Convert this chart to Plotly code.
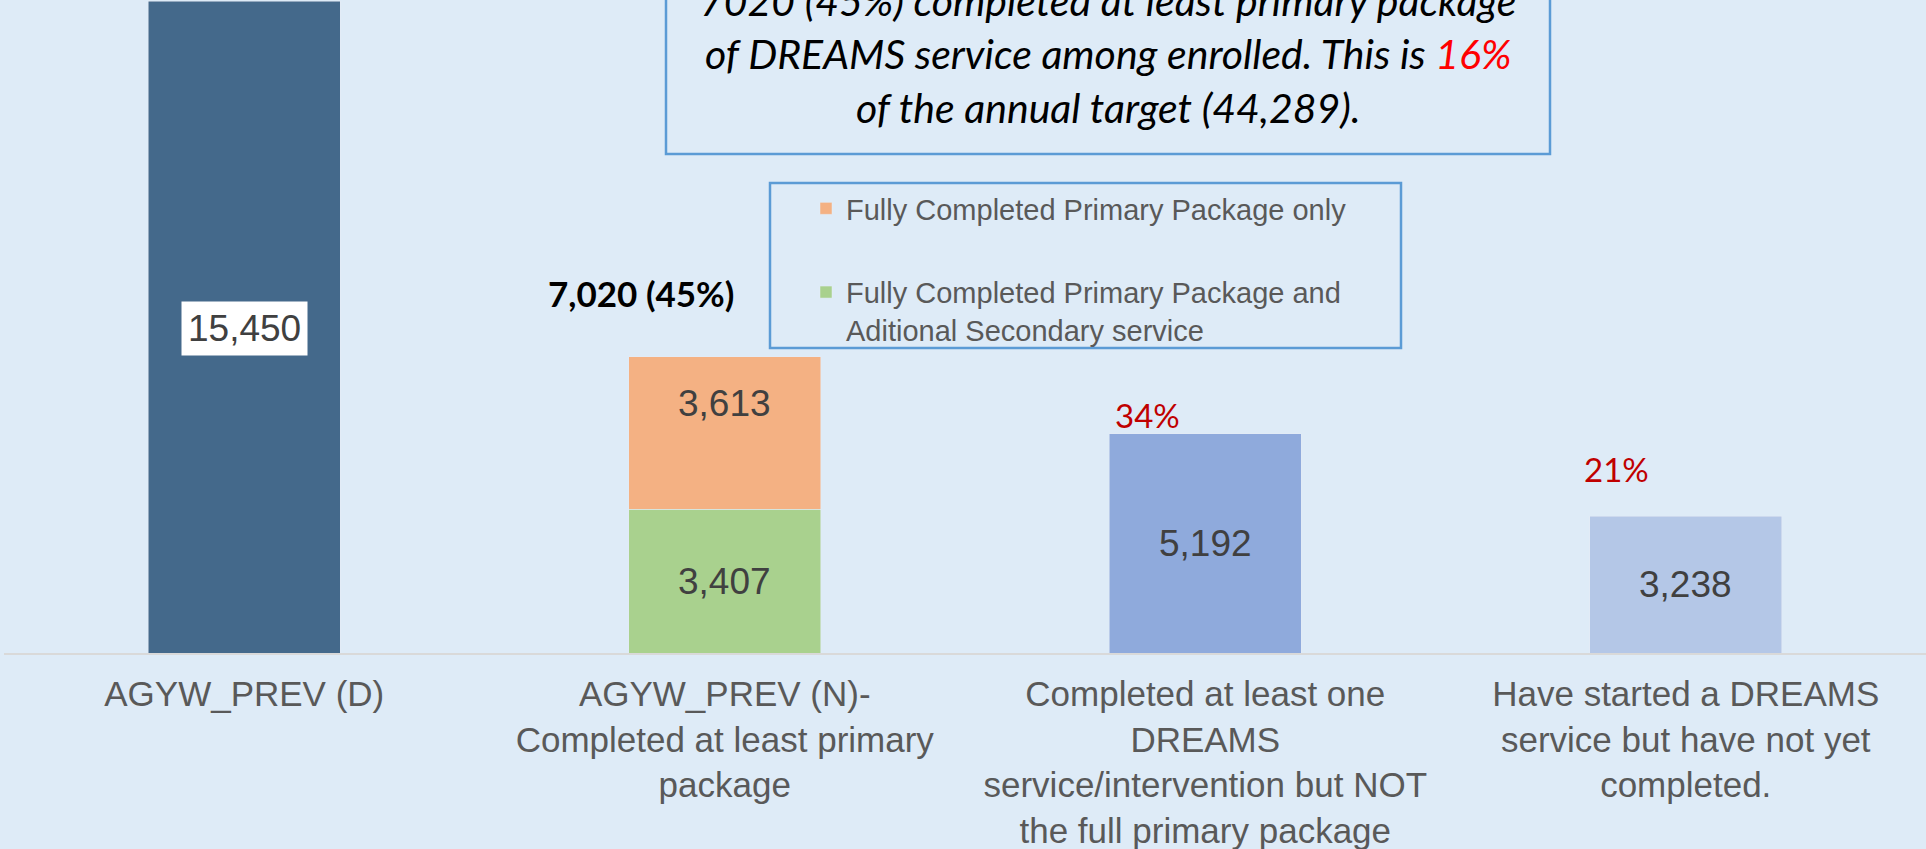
import plotly.graph_objects as go

# ---------------- data ----------------
cat_keys = ["D", "N", "ONE", "STARTED"]
cat_labels = [
    "AGYW_PREV (D)",
    "AGYW_PREV (N)-<br>Completed at least primary<br>package",
    "Completed at least one<br>DREAMS<br>service/intervention but NOT<br>the full primary package",
    "Have started a DREAMS<br>service but have not yet<br>completed.",
]
agyw_prev_d = 15450
primary_plus_secondary = 3407
primary_only = 3613
at_least_one = 5192
started_not_completed = 3238
pct_labels = {"ONE": "34%", "STARTED": "21%"}
summary_label = "7,020 (45%)"
legend_names = [
    "Fully Completed Primary Package only",
    "Fully Completed Primary Package and<br>Aditional Secondary service",
]
title_lines = [
    "7020 (45%) completed at least primary package",
    "of DREAMS service among enrolled. This is <span style='color:#FF0000'>16%</span>",
    "of the annual target (44,289).",
]

# ---------------- style ----------------
BG = "#DEEBF7"
W, H = 1926, 849
L, R, T, B = 4, 0, 0, 196
PLOT_BOTTOM = H - B


def px(xp, yp):
    """Convert page pixel position into paper coordinates."""
    return (xp - L) / (W - L - R), (PLOT_BOTTOM - yp) / (H - T - B)


label_font = dict(family="Liberation Sans, Arial, sans-serif", size=37, color="#404040")

fig = go.Figure()
fig.add_trace(go.Bar(x=[cat_keys[0]], y=[agyw_prev_d], marker_color="#44698B",
                     showlegend=False, name="AGYW_PREV (D)"))
fig.add_trace(go.Bar(x=[cat_keys[1]], y=[primary_plus_secondary], marker_color="#A9D18E",
                     name=legend_names[1], legendgroup="g2", legendrank=2))
fig.add_trace(go.Bar(x=[cat_keys[1]], y=[primary_only], marker_color="#F4B183",
                     name=legend_names[0], legendgroup="g1", legendrank=1))
fig.add_trace(go.Bar(x=[cat_keys[2]], y=[at_least_one], marker_color="#8FAADC",
                     showlegend=False, name="at least one"))
fig.add_trace(go.Bar(x=[cat_keys[3]], y=[started_not_completed], marker_color="#B4C7E7",
                     showlegend=False, name="started"))

annotations = []
# value labels
annotations.append(dict(x=cat_keys[0], y=agyw_prev_d / 2, xref="x", yref="y",
                        text=f"{agyw_prev_d:,}", showarrow=False, font=label_font,
                        bgcolor="white", borderpad=6, yshift=-1))
annotations.append(dict(x=cat_keys[1], y=primary_plus_secondary / 2, xref="x", yref="y",
                        text=f"{primary_plus_secondary:,}", showarrow=False, font=label_font))
annotations.append(dict(x=cat_keys[1], y=primary_plus_secondary + primary_only, xref="x", yref="y",
                        text=f"{primary_only:,}", showarrow=False, font=label_font,
                        yanchor="middle", yshift=-47))
annotations.append(dict(x=cat_keys[2], y=at_least_one / 2, xref="x", yref="y",
                        text=f"{at_least_one:,}", showarrow=False, font=label_font))
annotations.append(dict(x=cat_keys[3], y=started_not_completed / 2, xref="x", yref="y",
                        text=f"{started_not_completed:,}", showarrow=False, font=label_font))
# summary above stacked bar
annotations.append(dict(x=cat_keys[1], y=primary_plus_secondary + primary_only, xref="x", yref="y",
                        text=f"<b>{summary_label}</b>", showarrow=False,
                        font=dict(family="Lato, sans-serif", size=35, color="black"),
                        xanchor="center", yanchor="middle", xshift=-84, yshift=64))
# red percentages
pct_font = dict(family="Lato, sans-serif", size=33, color="#C00000")
annotations.append(dict(x=cat_keys[2], y=at_least_one, xref="x", yref="y", text=pct_labels["ONE"],
                        showarrow=False, font=pct_font, xanchor="left", yanchor="middle",
                        xshift=-92, yshift=19))
annotations.append(dict(x=cat_keys[3], y=started_not_completed, xref="x", yref="y",
                        text=pct_labels["STARTED"], showarrow=False, font=pct_font,
                        xanchor="left", yanchor="middle", xshift=-104, yshift=47))
# title text box
tx, ty = px(1108, 54)
annotations.append(dict(x=tx, y=ty, xref="paper", yref="paper",
                        text="<br>".join(f"<i>{t}</i>" for t in title_lines),
                        showarrow=False, xanchor="center", yanchor="middle", align="center",
                        font=dict(family="Lato, sans-serif", size=41, color="black", style="italic"),
                        ))

shapes = []
x0, y0 = px(666, 154)
x1, y1 = px(1550, -20)
shapes.append(dict(type="rect", xref="paper", yref="paper", x0=x0, y0=y0, x1=x1, y1=y1,
                   line=dict(color="#5B9BD5", width=2.5), fillcolor="rgba(0,0,0,0)"))
x0, y0 = px(770, 348)
x1, y1 = px(1401, 183)
shapes.append(dict(type="rect", xref="paper", yref="paper", x0=x0, y0=y0, x1=x1, y1=y1,
                   line=dict(color="#5B9BD5", width=2.5), fillcolor="rgba(0,0,0,0)"))

lx, ly = px(806, 183)
fig.update_layout(
    width=W, height=H,
    margin=dict(l=L, r=R, t=T, b=B, pad=0),
    paper_bgcolor=BG, plot_bgcolor=BG,
    barmode="stack", bargap=0.6,
    font=dict(family="Liberation Sans, Arial, sans-serif", color="#595959"),
    showlegend=True,
    legend=dict(x=lx, y=ly, xanchor="left", yanchor="top", bgcolor="rgba(0,0,0,0)",
                borderwidth=0, traceorder="grouped", tracegroupgap=43, valign="top",
                font=dict(family="Liberation Sans, Arial, sans-serif", size=29, color="#595959")),
    xaxis=dict(tickmode="array", tickvals=cat_keys, ticktext=cat_labels,
               tickfont=dict(size=35, color="#595959"), showline=True, linecolor="#D9D9D9",
               linewidth=2, showgrid=False, ticks="", automargin=False, zeroline=False,
               ticklabelstandoff=9),
    yaxis=dict(range=[0, 15480], visible=False, showgrid=False, zeroline=False, automargin=False),
    annotations=annotations,
    shapes=shapes,
    hovermode=False,
)

fig.write_html("out.html", config={"displayModeBar": False},
               post_script="document.body.style.margin='0';document.body.style.overflow='hidden';")
